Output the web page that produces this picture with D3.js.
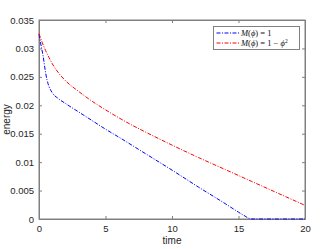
<!DOCTYPE html>
<html>
<head>
<meta charset="utf-8">
<script src="https://cdn.jsdelivr.net/npm/d3@7"></script>
<style>
  body { margin: 0; background: #fff; }
  svg { display: block; }
</style>
</head>
<body>
<div id="chart"></div>
<script>
// data
var timeBlue = [0, 0.1, 0.2, 0.3, 0.4, 0.5, 0.6, 0.75, 1, 1.5, 2, 3, 4, 5, 6, 8, 10, 12, 14, 15, 15.5, 15.8, 16, 18, 20];
var energyBlue = [0.0325, 0.0312, 0.0300, 0.0288, 0.0272, 0.0257, 0.0245, 0.0233, 0.0222, 0.0211, 0.0203, 0.0188, 0.0173, 0.0158, 0.0144, 0.0115, 0.0086, 0.0056, 0.0027, 0.0012, 0.0005, 0.0001, 0, 0, 0];
var timeRed = [0, 0.25, 0.5, 0.75, 1, 1.5, 2, 3, 4, 5, 6, 7, 8, 10, 12, 14, 16, 18, 20];
var energyRed = [0.0326, 0.0310, 0.0296, 0.0284, 0.0273, 0.0256, 0.0243, 0.0224, 0.0207, 0.0192, 0.0178, 0.0165, 0.0153, 0.0130, 0.0108, 0.0087, 0.0066, 0.0045, 0.0024];
var xTicks = [0, 5, 10, 15, 20];
var yTicks = [0, 0.005, 0.01, 0.015, 0.02, 0.025, 0.03, 0.035];
var yTickLabels = ["0", "0.005", "0.01", "0.015", "0.02", "0.025", "0.03", "0.035"];

var svgWidth = 332, svgHeight = 249;
var margin = { top: 20, right: 27, bottom: 30, left: 39 };
var width = svgWidth - margin.left - margin.right;
var height = svgHeight - margin.top - margin.bottom;

var svg = d3.select("#chart").append("svg")
    .attr("width", svgWidth)
    .attr("height", svgHeight)
    .style("font-family", "Liberation Sans, Arial, sans-serif");

var g = svg.append("g").attr("transform", `translate(${margin.left},${margin.top})`);

var x = d3.scaleLinear().domain([0, 20]).range([0, width]);
var y = d3.scaleLinear().domain([0, 0.035]).range([height, 0]);

var axisColor = "#808080";
var textColor = "#262626";

// box
g.append("rect").attr("width", width).attr("height", height)
    .attr("fill", "none").attr("stroke", axisColor).attr("stroke-width", 1);

// axes, ticks pointing inwards
var xAxis = g.append("g").attr("transform", `translate(0,${height})`)
    .call(d3.axisBottom(x).tickValues(xTicks).tickSizeInner(-3).tickSizeOuter(0).tickPadding(6));
var xTop = g.append("g")
    .call(d3.axisTop(x).tickValues(xTicks).tickSizeInner(-3).tickSizeOuter(0).tickFormat(""));
var yAxis = g.append("g")
    .call(d3.axisLeft(y).tickValues(yTicks).tickSizeInner(-3).tickSizeOuter(0).tickPadding(5)
        .tickFormat((d, i) => yTickLabels[i]));
var yRight = g.append("g").attr("transform", `translate(${width},0)`)
    .call(d3.axisRight(y).tickValues(yTicks).tickSizeInner(-3).tickSizeOuter(0).tickFormat(""));

[xAxis, xTop, yAxis, yRight].forEach(function(a) {
    a.select(".domain").attr("stroke", axisColor);
    a.selectAll(".tick line").attr("stroke", axisColor);
    a.selectAll(".tick text").attr("fill", textColor).style("font-size", "9.5px")
        .style("font-family", "Liberation Sans, Arial, sans-serif");
});

// axis titles
g.append("text").attr("x", width / 2).attr("y", height + 25)
    .attr("text-anchor", "middle").attr("fill", textColor).style("font-size", "10px").text("time");
g.append("text").attr("transform", `translate(-29,${height / 2}) rotate(-90)`)
    .attr("text-anchor", "middle").attr("fill", textColor).style("font-size", "10px").text("energy");

// lines
var lineBlue = d3.line().x((d, i) => x(timeBlue[i])).y(d => y(d)).curve(d3.curveMonotoneX);
var lineRed = d3.line().x((d, i) => x(timeRed[i])).y(d => y(d)).curve(d3.curveMonotoneX);
var dash = "4,1.5,1,1.5";

g.append("path").datum(energyBlue).attr("d", lineBlue)
    .attr("fill", "none").attr("stroke", "#0000ff").attr("stroke-width", 1)
    .attr("stroke-dasharray", dash);
g.append("path").datum(energyRed).attr("d", lineRed)
    .attr("fill", "none").attr("stroke", "#ff0000").attr("stroke-width", 1)
    .attr("stroke-dasharray", dash);

// legend
var leg = svg.append("g").attr("transform", "translate(213.5,26.5)");
leg.append("rect").attr("width", 86).attr("height", 23)
    .attr("fill", "#fff").attr("stroke", axisColor).attr("stroke-width", 1);

var legendItems = [
    { color: "#0000ff", tail: ") = 1", sq: false },
    { color: "#ff0000", tail: ") = 1 \u2212 ", sq: true }
];
legendItems.forEach(function(item, i) {
    var row = leg.append("g").attr("transform", `translate(0,${6.5 + i * 10})`);
    row.append("line").attr("x1", 3).attr("x2", 26).attr("y1", 0).attr("y2", 0)
        .attr("stroke", item.color).attr("stroke-width", 1).attr("stroke-dasharray", dash);
    var t = row.append("text").attr("x", 27.5).attr("y", 3)
        .style("font-family", "Liberation Serif, Times New Roman, serif")
        .style("font-size", "8.5px").attr("fill", "#111");
    t.append("tspan").style("font-style", "italic").text("M");
    t.append("tspan").text("(");
    t.append("tspan").style("font-style", "italic").text("\u03d5");
    t.append("tspan").text(item.tail);
    if (item.sq) {
        t.append("tspan").style("font-style", "italic").text("\u03d5");
        t.append("tspan").attr("dy", -3).style("font-size", "5.5px").text("2");
    }
});
</script>
</body>
</html>
